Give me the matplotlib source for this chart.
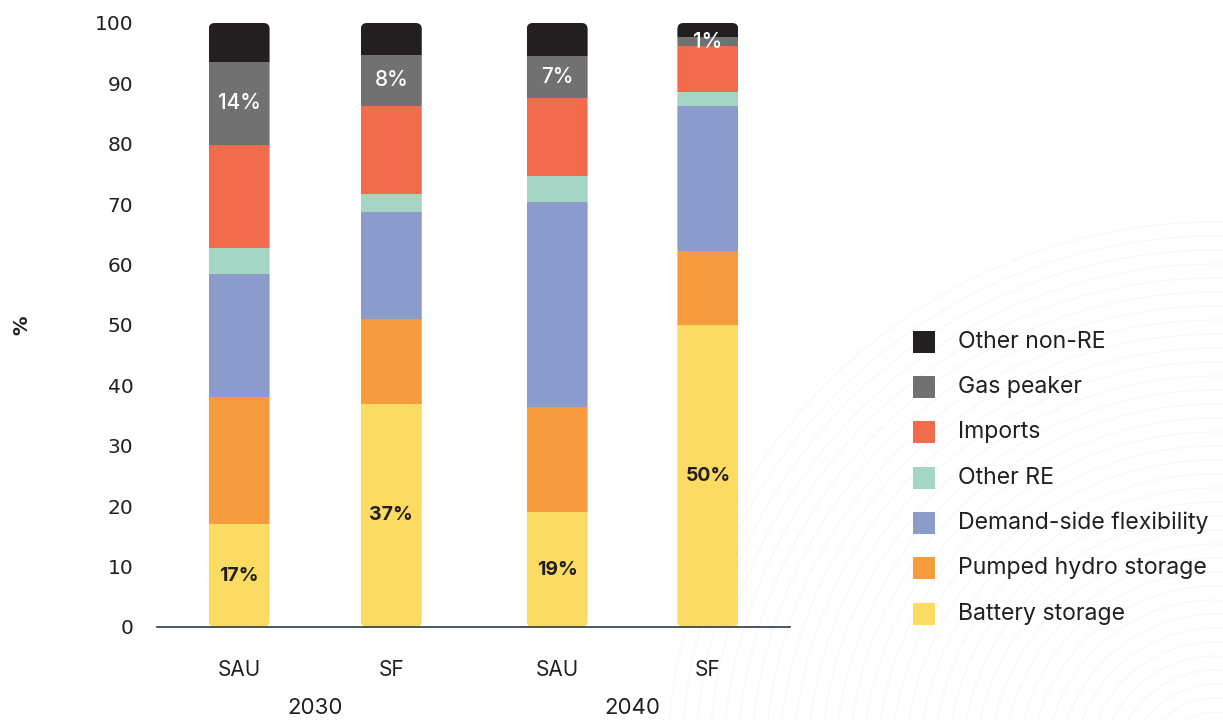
import matplotlib

matplotlib.use("Agg")

import matplotlib.pyplot as plt
import numpy as np
from matplotlib.patches import Circle, FancyBboxPatch, Rectangle


# Stack order from the bottom of each bar upwards
SOURCES = [
    "Battery storage",
    "Pumped hydro storage",
    "Demand-side flexibility",
    "Other RE",
    "Imports",
    "Gas peaker",
    "Other non-RE",
]

COLOURS = [
    "#fbdb62",
    "#f79b3f",
    "#8a9bcc",
    "#a3d7c4",
    "#f26b4b",
    "#717171",
    "#231f20",
]

SCENARIOS = ["SAU", "SF", "SAU", "SF"]
YEARS = ["2030", "2040"]
BAR_POSITIONS = [0.0, 1.0, 2.09, 3.08]

# Share of each source (%) per bar: 2030 SAU, 2030 SF, 2040 SAU, 2040 SF
battery = [17.0, 37.0, 19.0, 50.0]
pumped_hydro = [21.0, 14.0, 17.4, 12.3]
demand_side = [20.5, 17.7, 34.0, 24.0]
other_re = [4.2, 3.0, 4.3, 2.2]
imports = [17.1, 14.6, 12.9, 7.7]
gas_peaker = [13.8, 8.4, 6.9, 1.4]
other_non_re = [6.4, 5.3, 5.5, 2.4]

SHARES = [
    battery,
    pumped_hydro,
    demand_side,
    other_re,
    imports,
    gas_peaker,
    other_non_re,
]

FIG_W, FIG_H = 1223, 720
BAR_WIDTH = 0.40
TEXT_COLOUR = "#231f20"


def px(x, y):
    """Pixel position (from top left) to figure fraction."""
    return x / FIG_W, 1 - y / FIG_H


def main() -> None:
    plt.rcParams["font.family"] = ["Inter", "DejaVu Sans"]

    fig = plt.figure(figsize=(FIG_W / 100, FIG_H / 100), dpi=100)

    # faint ring pattern in the lower right corner
    bg = fig.add_axes([0, 0, 1, 1], zorder=-1)
    bg.set_xlim(0, FIG_W)
    bg.set_ylim(FIG_H, 0)
    bg.axis("off")
    for radius in np.arange(30, 560, 14):
        bg.add_patch(
            Circle(
                (1215, 770),
                radius,
                fill=False,
                edgecolor="#f6f6f6",
                linewidth=0.7,
            )
        )

    left, bottom = px(157, 627)
    right, top = px(790, 23)
    ax = fig.add_axes([left, bottom, right - left, top - bottom], zorder=1)
    ax.set_facecolor("none")
    ax.set_xlim(-0.54, 3.62)
    ax.set_ylim(0, 100)

    # rounded outline of each full bar, used to clip the stacked pieces
    x_per_px = (ax.get_xlim()[1] - ax.get_xlim()[0]) / (790 - 157)
    y_per_px = 100 / (627 - 23)
    aspect = y_per_px / x_per_px

    totals = np.sum(SHARES, axis=0)
    outlines = []
    for pos, total in zip(BAR_POSITIONS, totals):
        outline = FancyBboxPatch(
            (pos - BAR_WIDTH / 2, 0),
            BAR_WIDTH,
            total,
            boxstyle=f"round,pad=0,rounding_size={6 * x_per_px}",
            mutation_aspect=aspect,
            facecolor="none",
            edgecolor="none",
        )
        ax.add_patch(outline)
        outlines.append(outline)

    base = np.zeros(len(BAR_POSITIONS))
    for name, values, colour in zip(SOURCES, SHARES, COLOURS):
        bars = ax.bar(
            BAR_POSITIONS,
            values,
            width=BAR_WIDTH,
            bottom=base,
            color=colour,
            linewidth=0,
            label=name,
        )
        for bar, outline in zip(bars, outlines):
            bar.set_clip_path(outline)

        if name == "Battery storage":
            for pos, b, v in zip(BAR_POSITIONS, base, values):
                ax.text(
                    pos,
                    b + v / 2,
                    f"{v:.0f}%",
                    ha="center",
                    va="center",
                    fontsize=14,
                    fontweight="bold",
                    color=TEXT_COLOUR,
                )
        elif name == "Gas peaker":
            for pos, b, v in zip(BAR_POSITIONS, base, values):
                ax.text(
                    pos,
                    b + v / 2,
                    f"{v:.0f}%",
                    ha="center",
                    va="center",
                    fontsize=15,
                    fontweight="medium",
                    color="white",
                )
        base += values

    ax.set_yticks(np.arange(0, 101, 10))
    ax.tick_params(
        axis="y",
        length=0,
        pad=17,
        labelsize=14.5,
        labelcolor=TEXT_COLOUR,
        labelfontfamily="DejaVu Sans",
    )
    ax.set_xticks(BAR_POSITIONS)
    ax.set_xticklabels(SCENARIOS)
    ax.tick_params(
        axis="x",
        length=0,
        pad=24,
        labelsize=15,
        labelcolor=TEXT_COLOUR,
    )

    for side in ("top", "right", "left"):
        ax.spines[side].set_visible(False)
    ax.spines["bottom"].set_color("#2c3a4b")
    ax.spines["bottom"].set_linewidth(1.2)

    for i, year in enumerate(YEARS):
        mid = (BAR_POSITIONS[2 * i] + BAR_POSITIONS[2 * i + 1]) / 2
        ax.text(
            mid,
            -(708 - 627) / (627 - 23),
            year,
            transform=ax.get_xaxis_transform(),
            ha="center",
            va="center",
            fontsize=16,
            color=TEXT_COLOUR,
        )

    fig.text(
        *px(22, 325),
        "%",
        rotation=90,
        ha="center",
        va="center",
        fontsize=14,
        fontweight="bold",
        color=TEXT_COLOUR,
        family="DejaVu Sans",
    )

    # legend, top entry first
    row_y = [342, 387, 432, 478, 523, 568, 614]
    for y, name, colour in zip(row_y, SOURCES[::-1], COLOURS[::-1]):
        x0, y0 = px(913, y + 11)
        fig.patches.append(
            Rectangle(
                (x0, y0),
                22 / FIG_W,
                22 / FIG_H,
                transform=fig.transFigure,
                facecolor=colour,
                edgecolor="none",
            )
        )
        fig.text(
            *px(958, y),
            name,
            ha="left",
            va="center",
            fontsize=16.6,
            color=TEXT_COLOUR,
        )

    fig.savefig("out.png", dpi=100, facecolor="white")
    plt.close(fig)


if __name__ == "__main__":
    main()
